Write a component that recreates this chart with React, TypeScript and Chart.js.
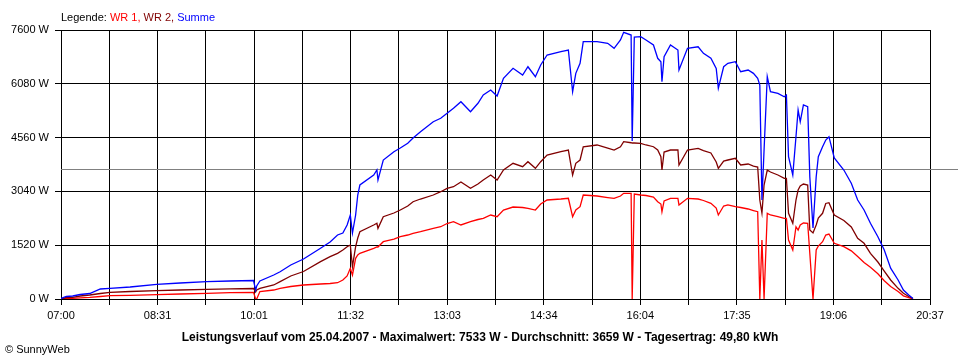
import React, { useEffect, useRef } from 'react';
import { Chart, registerables } from 'chart.js';

Chart.register(...registerables);

// Sample times (HH:MM)
const times = [
  '07:00', '07:05', '07:11', '07:18', '07:27', '07:37', '07:46', '08:05', '08:30', '08:52',
  '09:17', '09:39', '10:01', '10:03', '10:04', '10:07', '10:20', '10:26', '10:36', '10:48',
  '11:04', '11:13', '11:20', '11:25', '11:29', '11:32', '11:34', '11:37', '11:39', '11:41',
  '11:54', '11:57', '11:58', '12:03', '12:13', '12:19', '12:26', '12:31', '12:38', '12:50',
  '12:57', '13:03', '13:09', '13:16', '13:25', '13:32', '13:37', '13:44', '13:50', '13:56',
  '14:05', '14:14', '14:19', '14:26', '14:31', '14:37', '14:50', '14:57', '15:01', '15:04',
  '15:08', '15:11', '15:24', '15:34', '15:40', '15:46', '15:49', '15:56', '15:57', '15:59',
  '16:05', '16:10', '16:17', '16:21', '16:24', '16:25', '16:27', '16:33', '16:40', '16:41',
  '16:49', '16:59', '17:04', '17:11', '17:16', '17:18', '17:23', '17:27', '17:34', '17:39',
  '17:46', '17:51', '17:55', '17:57', '17:59', '18:01', '18:04', '18:07', '18:14', '18:20',
  '18:22', '18:24', '18:28', '18:31', '18:33', '18:35', '18:38', '18:42', '18:44', '18:47',
  '18:50', '18:52', '18:56', '18:59', '19:02', '19:07', '19:16', '19:23', '19:29', '19:35',
  '19:41', '19:48', '19:54', '20:00', '20:07', '20:12', '20:17', '20:21',
];

// WR 2 (dark red), W
const wr2 = [
  0, 42, 48, 85, 113, 155, 189, 212, 234, 254,
  274, 288, 297, 198, 254, 302, 396, 489, 650, 777,
  1054, 1195, 1291, 1384, 1477, 1526, 912, 1477, 1723, 1901,
  2091, 2139, 1997, 2325, 2430, 2514, 2627, 2749, 2825, 2938,
  3031, 3127, 3172, 3305, 3127, 3249, 3362, 3503, 3362, 3644,
  3834, 3737, 3879, 3692, 3879, 4068, 4161, 4209, 3503, 3834,
  3927, 4302, 4351, 4266, 4209, 4302, 4444, 4415, 4407, 4407,
  4399, 4351, 4302, 4209, 4020, 3644, 4153, 4209, 4209, 3786,
  4209, 4257, 4195, 4125, 3870, 3692, 3899, 3927, 3975, 3786,
  3814, 3757, 3729, 2797, 2430, 3221, 3644, 3588, 3503, 3410,
  3410, 2421, 2139, 2797, 3079, 3192, 3249, 3221, 1949, 1865,
  2091, 2288, 2421, 2700, 2720, 2373, 2218, 2034, 1715, 1574,
  1291, 1045, 791, 537, 302, 161, 71, 14,
];

// WR 1 (red), W
const wr1 = [
  0, 14, 20, 34, 48, 71, 93, 105, 121, 141,
  161, 178, 189, 0, 0, 212, 254, 302, 353, 396,
  424, 438, 460, 537, 650, 867, 678, 1150, 1243, 1291,
  1432, 1469, 1469, 1619, 1695, 1760, 1808, 1856, 1901, 1997,
  2042, 2133, 2184, 2091, 2184, 2246, 2280, 2373, 2325, 2514,
  2599, 2585, 2562, 2514, 2684, 2797, 2825, 2845, 2325, 2514,
  2607, 2938, 2910, 2867, 2845, 2910, 2986, 2986, 0, 2966,
  2938, 2924, 2882, 2749, 2684, 2466, 2769, 2845, 2845, 2656,
  2845, 2825, 2783, 2704, 2571, 2373, 2627, 2656, 2607, 2585,
  2543, 2500, 2466, 0, 1667, 0, 2421, 2373, 2325, 2280,
  2280, 1667, 1384, 2042, 1949, 2091, 2147, 2139, 1291, 0,
  1384, 1497, 1619, 1808, 1836, 1574, 1478, 1360, 1200, 1030,
  895, 715, 515, 355, 210, 90, 40, 0,
];

// Summe (blue), W
const summe = [
  14, 71, 85, 127, 155, 283, 302, 339, 415, 452,
  489, 509, 523, 254, 367, 509, 678, 771, 961, 1130,
  1432, 1610, 1808, 1865, 2091, 2373, 1865, 2373, 2938, 3221,
  3503, 3644, 3362, 3927, 4161, 4266, 4399, 4548, 4726, 5009,
  5105, 5246, 5387, 5574, 5291, 5529, 5763, 5904, 5735, 6235,
  6517, 6328, 6562, 6280, 6611, 6893, 6986, 7034, 5856, 6376,
  6659, 7269, 7269, 7224, 7082, 7317, 7533, 7458, 4464, 7402,
  7410, 7317, 7176, 6800, 6704, 6139, 6845, 7176, 7034, 6469,
  7082, 7127, 6941, 6800, 6517, 5952, 6562, 6659, 6704, 6421,
  6469, 6376, 6235, 6046, 2797, 4209, 6280, 5856, 5811, 5715,
  5763, 4020, 3503, 4585, 5339, 5009, 5481, 5432, 3455, 2006,
  3455, 4020, 4302, 4492, 4585, 3983, 3644, 3269, 2797, 2514,
  2139, 1760, 1384, 870, 537, 254, 113, 14,
];

const xTickLabels = ['07:00', '08:31', '10:01', '11:32', '13:03', '14:34', '16:04', '17:35', '19:06', '20:37'];
const yTickValues = [0, 1520, 3040, 4560, 6080, 7600];
const averageW = 3659;

const legendParts = [
  { text: 'Legende: ', color: '#000000' },
  { text: 'WR 1, ', color: '#ff0000' },
  { text: 'WR 2, ', color: '#800000' },
  { text: 'Summe', color: '#0000ff' },
];
const footerText = 'Leistungsverlauf vom 25.04.2007 - Maximalwert: 7533 W - Durchschnitt: 3659 W - Tagesertrag: 49,80 kWh';
const copyrightText = '\u00A9 SunnyWeb';

const toMin = (t: string) => {
  const [h, m] = t.split(':').map(Number);
  return h * 60 + m;
};

const FONT = '"Liberation Sans", Arial, sans-serif';

export default function App() {
  const ref = useRef<HTMLCanvasElement | null>(null);

  useEffect(() => {
    if (!ref.current) return;
    const xMin = toMin(xTickLabels[0]);
    const xMax = toMin(xTickLabels[xTickLabels.length - 1]);
    const nGrid = (xTickLabels.length - 1) * 2;
    const gridValues = Array.from({ length: nGrid + 1 }, (_, i) => xMin + (i * (xMax - xMin)) / nGrid);

    const mk = (vals: number[]) => times.map((t, i) => ({ x: toMin(t), y: vals[i] }));

    const decor = {
      id: 'decor',
      beforeDatasetsDraw(chart: any) {
        const { ctx, chartArea, scales } = chart;
        const y = Math.round(scales.y.getPixelForValue(averageW)) + 0.5;
        ctx.save();
        ctx.strokeStyle = '#808080';
        ctx.lineWidth = 1;
        ctx.beginPath();
        ctx.moveTo(chartArea.left, y);
        ctx.lineTo(chart.width - 2, y);
        ctx.stroke();
        ctx.restore();
      },
      afterDraw(chart: any) {
        const { ctx } = chart;
        ctx.save();
        ctx.textBaseline = 'alphabetic';
        ctx.textAlign = 'left';
        ctx.font = `11px ${FONT}`;
        let x = 61;
        for (const p of legendParts) {
          ctx.fillStyle = p.color;
          ctx.fillText(p.text, x, 21);
          x += ctx.measureText(p.text).width;
        }
        ctx.fillStyle = '#000';
        ctx.font = `bold 12px ${FONT}`;
        ctx.textAlign = 'center';
        ctx.fillText(footerText, 480, 341, 607);
        ctx.font = `11px ${FONT}`;
        ctx.textAlign = 'left';
        ctx.fillText(copyrightText, 5, 353);
        ctx.restore();
      },
    };

    const chart = new Chart(ref.current, {
      type: 'line',
      data: {
        datasets: [
          { label: 'Summe', data: mk(summe), borderColor: '#0000ff', borderWidth: 1.3, pointRadius: 0, tension: 0, fill: false },
          { label: 'WR 2', data: mk(wr2), borderColor: '#800000', borderWidth: 1.3, pointRadius: 0, tension: 0, fill: false },
          { label: 'WR 1', data: mk(wr1), borderColor: '#ff0000', borderWidth: 1.3, pointRadius: 0, tension: 0, fill: false },
        ],
      },
      options: {
        animation: false,
        responsive: false,
        layout: { padding: { left: 0, right: 30, top: 30, bottom: 36 } },
        plugins: { legend: { display: false }, tooltip: { enabled: false }, title: { display: false } },
        font: { family: FONT, size: 11 },
        scales: {
          x: {
            type: 'linear',
            min: xMin,
            max: xMax,
            afterBuildTicks: (scale: any) => {
              scale.ticks = gridValues.map((v) => ({ value: v }));
            },
            afterFit: (scale: any) => {
              scale.height = 25;
            },
            grid: { color: '#000', lineWidth: 1, tickLength: 6, tickColor: '#000' },
            border: { color: '#000' },
            ticks: {
              autoSkip: false,
              maxRotation: 0,
              color: '#000',
              padding: 4,
              font: { family: FONT, size: 11 },
              callback: (_v: any, i: number) => (i % 2 === 0 ? xTickLabels[i / 2] : ''),
            },
          },
          y: {
            min: 0,
            max: yTickValues[yTickValues.length - 1],
            afterBuildTicks: (scale: any) => {
              scale.ticks = yTickValues.map((v) => ({ value: v }));
            },
            afterFit: (scale: any) => {
              scale.width = 61;
            },
            grid: { color: '#000', lineWidth: 1, tickLength: 6, tickColor: '#000' },
            border: { color: '#000' },
            ticks: {
              color: '#000',
              padding: 6,
              font: { family: FONT, size: 11 },
              callback: (v: any) => `${v} W`,
            },
          },
        },
      } as any,
      plugins: [decor],
    });
    return () => chart.destroy();
  }, []);

  return (
    <div style={{ position: 'absolute', left: 0, top: 0, width: 960, height: 360, background: '#fff' }}>
      <canvas ref={ref} width={960} height={360} style={{ display: 'block' }} />
    </div>
  );
}
